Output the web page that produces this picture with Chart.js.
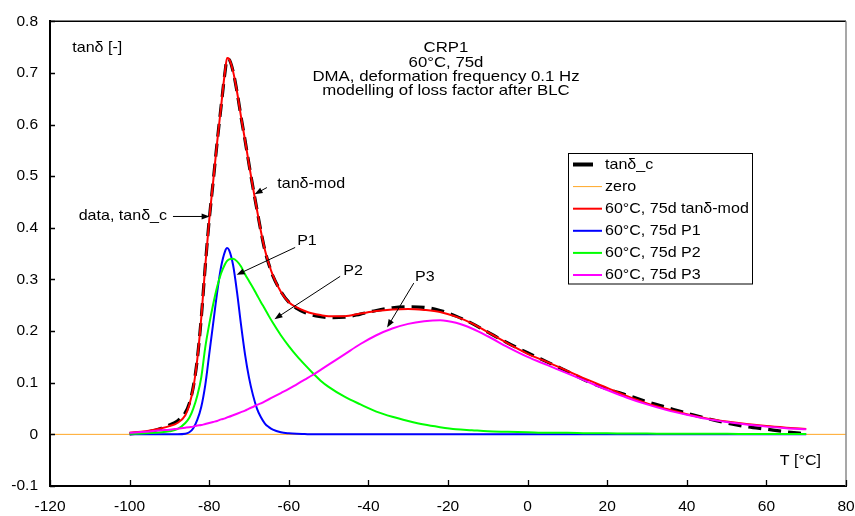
<!DOCTYPE html>
<html><head><meta charset="utf-8">
<script src="https://cdn.jsdelivr.net/npm/chart.js@4.4.0/dist/chart.umd.min.js"></script>
<style>html,body{margin:0;padding:0;background:#fff;}canvas{display:block;}</style>
</head><body>
<canvas id="c" width="855" height="516"></canvas>
<script>
// ---- data ----
const temperature = [-100,-96,-92,-90,-88,-86,-85,-84,-83,-82,-81,-80,-79,-78,-77,-76,-75.5,-75,-74,-73,-72,-71,-70,-69,-68,-67,-66,-65,-64,-62,-60,-58,-56,-54,-52,-50,-46,-42,-38,-34,-30,-26,-22,-18,-14,-10,-5,0,5,10,15,20,25,30,35,40,45,50,55,60,65,70];
const tanDeltaC = [0.001,0.004,0.012,0.018,0.026,0.042,0.060,0.092,0.145,0.225,0.325,0.415,0.490,0.566,0.636,0.703,0.727,0.726,0.703,0.663,0.615,0.570,0.523,0.478,0.435,0.393,0.356,0.329,0.307,0.277,0.256,0.244,0.236,0.231,0.228,0.226,0.227,0.233,0.240,0.245,0.247,0.246,0.240,0.229,0.215,0.198,0.177,0.158,0.140,0.122,0.103,0.088,0.076,0.063,0.052,0.041,0.031,0.022,0.015,0.010,0.005,0.001];
const zeroT = [-120, 80];
const zeroValues = [0, 0];
const tanDeltaMod = [0.003,0.006,0.012,0.016,0.022,0.037,0.057,0.090,0.145,0.225,0.325,0.415,0.490,0.566,0.636,0.705,0.729,0.727,0.703,0.663,0.615,0.570,0.523,0.478,0.435,0.393,0.357,0.330,0.308,0.276,0.256,0.246,0.239,0.234,0.231,0.229,0.229,0.234,0.239,0.242,0.243,0.241,0.237,0.228,0.215,0.198,0.176,0.156,0.140,0.123,0.106,0.090,0.074,0.060,0.049,0.039,0.031,0.025,0.020,0.016,0.013,0.0105];
const peakP1 = [0,0,0,0,0,0.001,0.004,0.012,0.028,0.053,0.095,0.155,0.215,0.275,0.325,0.355,0.361,0.357,0.328,0.275,0.212,0.155,0.110,0.076,0.050,0.033,0.021,0.014,0.009,0.004,0.002,0.001,0.0005,0,0,0,0,0,0,0,0,0,0,0,0,0,0,0,0,0,0,0,0,0,0,0,0,0,0,0,0,0];
const peakP2 = [0.001,0.002,0.004,0.006,0.010,0.022,0.032,0.050,0.075,0.110,0.168,0.213,0.252,0.286,0.312,0.330,0.336,0.339,0.340,0.335,0.325,0.310,0.297,0.284,0.270,0.256,0.243,0.229,0.216,0.192,0.171,0.152,0.135,0.119,0.104,0.092,0.073,0.058,0.044,0.034,0.026,0.019,0.014,0.010,0.008,0.006,0.005,0.004,0.003,0.003,0.002,0.002,0.0015,0.0015,0.001,0.001,0.001,0.001,0.0008,0.0007,0.0006,0.0005];
const peakP3 = [0.003,0.005,0.008,0.009,0.011,0.013,0.014,0.015,0.017,0.018,0.020,0.022,0.024,0.026,0.029,0.031,0.033,0.034,0.037,0.040,0.043,0.046,0.050,0.053,0.057,0.060,0.064,0.068,0.072,0.080,0.088,0.097,0.106,0.115,0.125,0.135,0.155,0.175,0.192,0.205,0.214,0.219,0.221,0.216,0.205,0.190,0.169,0.150,0.134,0.118,0.102,0.086,0.071,0.058,0.047,0.038,0.030,0.024,0.019,0.015,0.012,0.010];
const seriesLabels = ['tanδ_c','zero','60°C, 75d tanδ-mod','60°C, 75d P1','60°C, 75d P2','60°C, 75d P3'];
const xTickValues = [-120,-100,-80,-60,-40,-20,0,20,40,60,80];
const yTickValues = [-0.1,0,0.1,0.2,0.3,0.4,0.5,0.6,0.7,0.8];
const titleLines = ['CRP1','60°C, 75d','DMA, deformation frequency 0.1 Hz','modelling of loss factor after BLC'];
const noteTexts = ['tanδ [-]','data, tanδ_c','tanδ-mod','P1','P2','P3','T [°C]'];

// ---- layout / style ----
const FONT = "'Liberation Sans', Arial, sans-serif";
const pts = (xs, ys) => xs.map((t, i) => ({x: t, y: ys[i]}));
const notePos = [
  {x:-114.4, y:0.748, align:'left'},
  {x:-90.6, y:0.423, align:'right'},
  {x:-62.9, y:0.486, align:'left'},
  {x:-57.9, y:0.374, align:'left'},
  {x:-46.3, y:0.317, align:'left'},
  {x:-28.3, y:0.306, align:'left'},
  {x:73.7, y:-0.052, align:'right'}
];
const arrows = [
  {from:[-89.1,0.422], to:[-79.9,0.422]},
  {from:[-65.5,0.478], to:[-68.6,0.465]},
  {from:[-58.4,0.362], to:[-73.1,0.309]},
  {from:[-47.1,0.306], to:[-63.6,0.223]},
  {from:[-28.6,0.293], to:[-35.3,0.207]}
];

function stretchedText(ctx, s, x, y, sx) {
  ctx.save();
  ctx.translate(x, y);
  ctx.scale(sx, 1);
  ctx.fillText(s, 0, 0);
  ctx.restore();
}

const decorPlugin = {
  id: 'decor',
  afterDraw(chart) {
    const {ctx, chartArea: a, scales: {x, y}} = chart;
    ctx.save();
    ctx.lineWidth = 1.5;
    ctx.strokeStyle = '#000';
    ctx.beginPath(); ctx.moveTo(a.left, a.top); ctx.lineTo(a.right, a.top); ctx.stroke();
    ctx.strokeStyle = '#8a8a8a';
    ctx.beginPath(); ctx.moveTo(a.right, a.top); ctx.lineTo(a.right, a.bottom); ctx.stroke();
    ctx.strokeStyle = '#000'; ctx.lineWidth = 1.3;
    ctx.beginPath();
    x.ticks.forEach(t => { const p = Math.round(x.getPixelForValue(t.value)) + 0.5; ctx.moveTo(p, a.bottom); ctx.lineTo(p, a.bottom - 6); });
    y.ticks.forEach(t => { const p = Math.round(y.getPixelForValue(t.value)) + 0.5; ctx.moveTo(a.left, p); ctx.lineTo(a.left + 5, p); });
    ctx.stroke();

    ctx.fillStyle = '#000';
    ctx.font = '15px ' + FONT;
    ctx.textAlign = 'center'; ctx.textBaseline = 'middle';
    const cx = x.getPixelForValue(-20.5);
    titleLines.forEach((s, i) => stretchedText(ctx, s, cx, 48 + i * 14.4, 1.12));

    ctx.font = '15px ' + FONT;
    noteTexts.forEach((s, i) => {
      const p = notePos[i];
      ctx.textAlign = p.align;
      stretchedText(ctx, s, x.getPixelForValue(p.x), y.getPixelForValue(p.y), 1.07);
    });
    ctx.lineWidth = 1; ctx.strokeStyle = '#000';
    arrows.forEach(ar => {
      const x1 = x.getPixelForValue(ar.from[0]), y1 = y.getPixelForValue(ar.from[1]);
      const x2 = x.getPixelForValue(ar.to[0]), y2 = y.getPixelForValue(ar.to[1]);
      const ang = Math.atan2(y2 - y1, x2 - x1);
      const L = 8, W = 3;
      ctx.beginPath(); ctx.moveTo(x1, y1); ctx.lineTo(x2 - Math.cos(ang) * L * 0.8, y2 - Math.sin(ang) * L * 0.8); ctx.stroke();
      ctx.beginPath();
      ctx.moveTo(x2, y2);
      ctx.lineTo(x2 - Math.cos(ang) * L - Math.sin(ang) * W, y2 - Math.sin(ang) * L + Math.cos(ang) * W);
      ctx.lineTo(x2 - Math.cos(ang) * L + Math.sin(ang) * W, y2 - Math.sin(ang) * L - Math.cos(ang) * W);
      ctx.closePath(); ctx.fill();
    });

    const bx = 568.5, by = 153.5, bw = 184, bh = 130.5;
    ctx.fillStyle = '#fff';
    ctx.fillRect(bx, by, bw, bh);
    ctx.strokeStyle = '#000'; ctx.lineWidth = 1;
    ctx.strokeRect(bx, by, bw, bh);
    ctx.font = '15px ' + FONT;
    ctx.textAlign = 'left'; ctx.textBaseline = 'middle';
    chart.data.datasets.forEach((ds, i) => {
      const ry = 164.5 + i * 22.1;
      ctx.strokeStyle = ds.borderColor;
      ctx.lineWidth = i === 0 ? 4 : (i === 1 ? 1 : 2);
      ctx.setLineDash([]);
      ctx.beginPath(); ctx.moveTo(573, ry); ctx.lineTo(i === 0 ? 593 : 602, ry); ctx.stroke();
      ctx.fillStyle = '#000';
      stretchedText(ctx, ds.label, 605, ry, 1.07);
    });
    ctx.restore();
  }
};

const lineDs = (label, xs, ys, color, width, extra) => Object.assign({
  label, data: pts(xs, ys), borderColor: color, backgroundColor: color,
  borderWidth: width, pointRadius: 0, fill: false, cubicInterpolationMode: 'monotone'
}, extra || {});

new Chart(document.getElementById('c'), {
  type: 'line',
  data: {
    datasets: [
      lineDs(seriesLabels[0], temperature, tanDeltaC, '#000000', 3.2, {borderDash: [13, 7], order: 10}),
      lineDs(seriesLabels[1], zeroT, zeroValues, '#FFA726', 1, {order: 9}),
      lineDs(seriesLabels[2], temperature, tanDeltaMod, '#FF0000', 2, {order: 5}),
      lineDs(seriesLabels[3], temperature, peakP1, '#0000FF', 2, {order: 4}),
      lineDs(seriesLabels[4], temperature, peakP2, '#00FF00', 2, {order: 3}),
      lineDs(seriesLabels[5], temperature, peakP3, '#FF00FF', 2, {order: 2})
    ]
  },
  options: {
    responsive: false, animation: false, devicePixelRatio: 1,
    layout: {padding: {left: 0, right: 0, top: 19, bottom: 0}},
    plugins: {legend: {display: false}, tooltip: {enabled: false}},
    scales: {
      x: {
        type: 'linear', min: -120, max: 80,
        afterBuildTicks: s => { s.ticks = xTickValues.map(v => ({value: v})); },
        afterFit: s => { s.height = 30; s.paddingRight = 9; },
        grid: {display: false, drawTicks: false},
        border: {display: true, color: '#000', width: 2},
        ticks: {color: '#000', font: {family: FONT, size: 15.5}, padding: 11, maxRotation: 0, autoSkip: false,
          callback: v => String(v)}
      },
      y: {
        type: 'linear', min: -0.1, max: 0.8,
        afterBuildTicks: s => { s.ticks = yTickValues.map(v => ({value: v})); },
        afterFit: s => { s.width = 50; },
        grid: {display: false, drawTicks: false},
        border: {display: true, color: '#000', width: 2},
        ticks: {color: '#000', font: {family: FONT, size: 15.5}, padding: 12, autoSkip: false,
          callback: v => String(Math.round(v * 10) / 10)}
      }
    }
  },
  plugins: [decorPlugin]
});
</script>
</body></html>
